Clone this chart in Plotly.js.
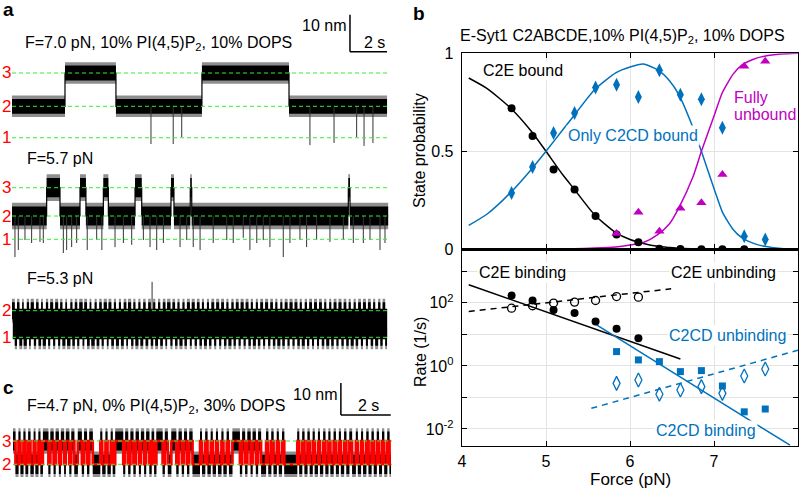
<!DOCTYPE html>
<html>
<head>
<meta charset="utf-8">
<script src="https://cdn.plot.ly/plotly-3.0.1.min.js"></script>
<style>
html, body { margin: 0; padding: 0; background: #fff; }
#fig { width: 800px; height: 488px; }
</style>
</head>
<body>
<div id="fig"></div>
<script>
// ---------- panel a, F = 7.0 pN (time in s, extension in nm, level 2 = 0) ----------
var tr1Levels = [-8.5, 0, 9.0];
var tr1Switch = [0, 2.86, 5.61, 10.25, 14.95];
var tr1State  = [2, 3, 2, 3, 2];
var tr1End = 20.24;
var tr1DipT = [7.50, 8.70, 9.16, 16.08, 17.38, 18.60, 19.00, 19.48];
var tr1DipY = [-10.2, -10.2, -8.3, -10.5, -9.9, -8.3, -10.7, -9.9];

// ---------- panel a, F = 5.7 pN ----------
var tr2Levels = [-6.3, 0, 7.65];
var tr2Switch = [0, 1.87, 2.59, 3.67, 3.99, 4.93, 5.20, 6.64, 7.00, 8.58, 8.74, 9.62, 9.70, 18.15, 18.24];
var tr2State  = [2, 3, 2, 3, 2, 3, 2, 3, 2, 3, 2, 3, 2, 3, 2];
var tr2End = 20.3;
var tr2DipT = [0.16, 0.34, 0.70, 1.06, 1.51, 1.69, 2.77, 2.95, 3.22, 3.49, 4.06, 4.57, 4.85, 5.56, 6.01,
               6.46, 7.09, 7.45, 7.81, 8.17, 9.07, 9.43, 9.78, 10.15, 10.86, 11.59, 11.94, 12.48, 12.84, 13.21,
               13.56, 13.92, 14.64, 15.00, 15.54, 15.90, 16.44, 17.16, 17.88, 18.42, 18.96, 19.32, 19.86, 20.13];
var tr2DipY = [-11.1, -9.2, -6.5, -7.3, -7.0, -7.3, -10.0, -9.2, -8.4, -7.3, -9.2, -6.5, -9.2, -8.4, -7.3,
               -7.8, -6.5, -8.4, -9.2, -7.3, -8.4, -6.5, -8.4, -9.2, -7.3, -6.5, -7.3, -5.9, -9.2, -7.3,
               -6.5, -8.4, -11.1, -7.3, -6.5, -8.4, -6.5, -7.0, -6.5, -7.3, -7.3, -6.5, -9.2, -7.3];

// ---------- panel a, F = 5.3 pN (fast 2 <-> 1 flicker) ----------
var tr3Levels = [-7.19, 0];
var tr3Switch = [0, 0.15, 0.27, 0.40, 0.55, 0.63, 0.80, 0.92, 1.01, 1.18, 1.30, 1.43, 1.57, 1.66, 1.83, 1.95, 2.06,
  2.22, 2.33, 2.49, 2.60, 2.72, 2.88, 2.97, 3.15, 3.26, 3.39, 3.52, 3.63, 3.81, 3.90, 4.05, 4.19, 4.28, 4.46,
  4.57, 4.71, 4.84, 4.95, 5.12, 5.21, 5.36, 5.50, 5.61, 5.77, 5.88, 6.03, 6.17, 6.26, 6.43, 6.55, 6.66, 6.82,
  6.93, 7.08, 7.21, 7.35, 7.49, 7.62, 7.73, 7.88, 8.00, 8.14, 8.28, 8.37, 8.55, 8.66, 8.80, 8.93, 9.04, 9.20,
  9.31, 9.44, 9.60, 9.70, 9.86, 9.98, 10.12, 10.25, 10.36, 10.52, 10.63, 10.76, 10.91, 11.02, 11.18, 11.29,
  11.44, 11.57, 11.68, 11.84, 11.96, 12.08, 12.23, 12.34, 12.50, 12.61, 12.76, 12.89, 13.00, 13.16, 13.27,
  13.40, 13.55, 13.66, 13.82, 13.94, 14.08, 14.21, 14.32, 14.48, 14.59, 14.72, 14.87, 14.98, 15.14, 15.25,
  15.40, 15.53, 15.64, 15.80, 15.92, 16.04, 16.19, 16.30, 16.46, 16.57, 16.72, 16.85, 16.96, 17.12, 17.23,
  17.36, 17.51, 17.62, 17.78, 17.90, 18.04, 18.17, 18.28, 18.44, 18.55, 18.68, 18.83, 18.94, 19.10, 19.21,
  19.36, 19.49, 19.60, 19.76, 19.88, 20.00, 20.14];
var tr3FirstState = 2;
var tr3End = 20.24;
var tr3DipT = [7.56];
var tr3DipY = [7.8];

// ---------- panel c, F = 4.7 pN (3 <-> 2, red = idealized states) ----------
var trCLevels = [null, 0, 7.28];
var trCSwitch = [0, 0.10, 0.22, 0.30, 0.42, 0.50, 0.61, 0.70, 0.83, 0.90, 1.02, 1.10, 1.20,
  1.42, 1.50, 1.63, 1.71, 1.84, 1.92, 2.05, 2.12, 2.26, 2.34, 2.46, 2.60,
  2.76, 2.85, 2.97, 3.06, 3.20, 3.50, 3.58, 3.71, 3.79, 3.92, 4.00, 4.10,
  4.42, 4.50, 4.62, 4.71, 4.83, 4.92, 5.05, 5.13, 5.26, 5.34, 5.47, 5.56, 5.66, 5.75,
  6.00, 6.09, 6.21, 6.35, 6.55, 6.64, 6.77, 6.86, 6.98, 7.07, 7.20,
  7.50, 7.58, 7.71, 7.80, 7.93, 8.01, 8.14, 8.22, 8.36, 8.44, 8.57, 8.66, 8.80,
  9.10, 9.19, 9.31, 9.40, 9.53, 9.61, 9.74, 9.83, 9.95, 10.15, 10.24, 10.36, 10.45, 10.58, 10.66, 10.79, 10.88,
  11.40, 11.48, 11.60, 11.69, 11.81, 11.90, 12.02, 12.10, 12.23, 12.31, 12.44, 12.53, 12.65, 12.73, 12.86,
  12.95, 13.07, 13.15, 13.28, 13.37, 13.49, 13.60, 13.75, 13.83, 13.96, 14.04, 14.17, 14.26, 14.38, 14.47,
  14.59, 14.68, 14.80, 14.89, 15.01, 15.10];
var trCFirstState = 3;
var trCEnd = 15.16;

var levelNames = ['1', '2', '3'];

// ---------- panel b, state probabilities ----------
var forceF = [4.59, 4.84, 5.09, 5.34, 5.59, 5.84, 6.10, 6.35, 6.60, 6.85, 7.10, 7.36, 7.61];
var pC2E   = [0.72, 0.578, 0.407, 0.305, 0.17, 0.075, 0.036, 0.003, 0.002, 0, 0, 0, null];
var pC2CD  = [0.287, 0.42, 0.593, 0.695, 0.825, 0.84, 0.777, 0.913, 0.789, 0.765, 0.62, 0.066, 0.05];
var pFree  = [null, null, null, null, null, 0.08, 0.189, 0.092, 0.21, 0.238, 0.381, 0.934, 0.959];

var fitF     = [4.08, 4.3, 4.58, 4.83, 5.0, 5.2, 5.33, 5.58, 5.83, 6.0, 6.16, 6.33, 6.47, 6.58, 6.75, 6.85, 7.0, 7.1, 7.23, 7.33, 7.47, 7.6, 7.8, 8.0];
var fitC2E   = [0.874, 0.82, 0.72, 0.60, 0.50, 0.38, 0.31, 0.175, 0.085, 0.05, 0.03, 0.015, 0.009, 0.005, 0.003, 0.002, 0.001, 0, 0, 0, 0, 0, 0, 0];
var fitC2CD  = [0.122, 0.18, 0.29, 0.41, 0.50, 0.61, 0.68, 0.815, 0.90, 0.93, 0.945, 0.915, 0.86, 0.79, 0.62, 0.50, 0.31, 0.19, 0.10, 0.06, 0.03, 0.015, 0.004, 0];
var fitFree  = [0, 0, 0, 0, 0.001, 0.002, 0.003, 0.006, 0.012, 0.022, 0.035, 0.075, 0.13, 0.21, 0.37, 0.50, 0.68, 0.80, 0.895, 0.94, 0.97, 0.985, 0.996, 1.0];

// ---------- panel b, rates (1/s) ----------
var kC2Ebind   = [172, 119, 60, 47.4, 25.7, 15.0, 7.6];        // forceF[0..6]
var kC2Eunbind = [68, 81, 99, 106, 119, 159, 152];              // forceF[0..6]
var kC2CDbind   = [2.85, 1.55, 1.37, 0.66, 0.71, 0.231, 0.035, 0.043];  // forceF[5..12]
var kC2CDunbind = [0.28, 0.36, 0.126, 0.173, 0.22, 0.135, 0.48, 0.80]; // forceF[5..12]

var fitC2EbindF = [4.08, 6.6],   fitC2EbindK = [377, 1.66];
var fitC2EunbF  = [4.08, 6.49],  fitC2EunbK  = [53.3, 280.5];
var fitC2CDbindF = [5.583, 7.905], fitC2CDbindK = [21.6, 0.00305];
var fitC2CDunbF  = [5.54, 8.0],    fitC2CDunbK  = [0.0452, 3.16];

var rateTicks = [0.01, 0.1, 1, 10, 100, 1000];
var rateTickText = ['10<sup>-2</sup>', '', '10<sup>0</sup>', '', '10<sup>2</sup>', ''];

// ---------- helpers ----------
var W = 800, H = 488;
function X(px) { return px / W; }
function Y(py) { return 1 - py / H; }
function dom(top, bot) { return [Y(bot), Y(top)]; }
function yRange(top, bot, zero, s) { return [-(bot - zero) / s, (zero - top) / s]; }

var FONT = 'Arial, "Liberation Sans", Helvetica, sans-serif';
var BLUE = '#0072BD', MAG = '#c000c0', GREEN = '#33ee33', RED = '#ff0000';

function alternate(first, other, n) {
  var s = [];
  for (var i = 0; i < n; i++) s.push(i % 2 === 0 ? first : other);
  return s;
}

function step(sw, st, end, lv) {
  var x = sw.slice(); x.push(end);
  var y = st.map(function (s) { return lv[s - 1]; });
  y.push(y[y.length - 1]);
  return { x: x, y: y };
}

var data = [];

function band(ax, sx, h, color) {
  data.push({ x: sx.x, y: sx.y.map(function (v) { return v - h; }), xaxis: ax[0], yaxis: ax[1],
    mode: 'lines', line: { width: 0, shape: 'hv', simplify: false }, hoverinfo: 'skip', showlegend: false });
  data.push({ x: sx.x, y: sx.y.map(function (v) { return v + h; }), xaxis: ax[0], yaxis: ax[1],
    mode: 'lines', line: { width: 0, shape: 'hv', simplify: false }, fill: 'tonexty', fillcolor: color,
    hoverinfo: 'skip', showlegend: false });
}

function stepLine(ax, sx, color, w) {
  data.push({ x: sx.x, y: sx.y, xaxis: ax[0], yaxis: ax[1], mode: 'lines',
    line: { color: color, width: w, shape: 'hv', simplify: false }, hoverinfo: 'skip', showlegend: false });
}

function dips(ax, base, t, d) {
  var x = [], y = [];
  for (var i = 0; i < t.length; i++) { x.push(t[i], t[i], null); y.push(base, d[i], null); }
  data.push({ x: x, y: y, xaxis: ax[0], yaxis: ax[1], mode: 'lines',
    line: { color: '#333', width: 1 }, hoverinfo: 'skip', showlegend: false });
}

function levelLines(ax, lv, xmax) {
  lv.forEach(function (v) {
    if (v === null) return;
    data.push({ x: [0, xmax], y: [v, v], xaxis: ax[0], yaxis: ax[1], mode: 'lines',
      line: { color: GREEN, width: 1, dash: '4px,3px' }, hoverinfo: 'skip', showlegend: false });
  });
}

function trace(ax, sx, core, fringe, cw) {
  band(ax, sx, fringe, 'rgba(30,30,30,0.5)');
  band(ax, sx, core, '#000');
  stepLine(ax, sx, '#000', cw);
}

// ---------- build panel a / c ----------
var s1 = step(tr1Switch, tr1State, tr1End, tr1Levels);
trace(['x', 'y'], s1, 2.0, 2.9, 1.2);
dips(['x', 'y'], 0, tr1DipT, tr1DipY);
levelLines(['x', 'y'], tr1Levels, 20.4);

var s2 = step(tr2Switch, tr2State, tr2End, tr2Levels);
trace(['x2', 'y2'], s2, 2.6, 3.6, 1.2);
dips(['x2', 'y2'], 0, tr2DipT, tr2DipY);
levelLines(['x2', 'y2'], tr2Levels, 20.4);

var s3 = step(tr3Switch, alternate(tr3FirstState, 1, tr3Switch.length), tr3End, tr3Levels);
trace(['x3', 'y3'], s3, 2.3, 3.2, 4);
dips(['x3', 'y3'], 0, tr3DipT, tr3DipY);
levelLines(['x3', 'y3'], tr3Levels, 20.3);

var sC = step(trCSwitch, alternate(trCFirstState, 2, trCSwitch.length), trCEnd, trCLevels);
trace(['x4', 'y4'], sC, 3.0, 4.0, 1.5);
stepLine(['x4', 'y4'], sC, RED, 2.6);
levelLines(['x4', 'y4'], trCLevels, 15.2);

// ---------- build panel b ----------
function line(xa, ya, x, y, color, dash) {
  data.push({ x: x, y: y, xaxis: xa, yaxis: ya, mode: 'lines',
    line: { color: color, width: 1.5, dash: dash || 'solid', shape: 'spline', smoothing: 0.6 },
    hoverinfo: 'skip', showlegend: false });
}
function pts(xa, ya, x, y, sym, size, color, open) {
  data.push({ x: x, y: y, xaxis: xa, yaxis: ya, mode: 'markers',
    marker: { symbol: sym, size: size, color: color, line: { color: color, width: open ? 1.3 : 0 } },
    hoverinfo: 'skip', showlegend: false });
}

line('x5', 'y5', fitF, fitC2E, '#000');
line('x5', 'y5', fitF, fitC2CD, BLUE);
line('x5', 'y5', fitF, fitFree, MAG);
pts('x5', 'y5', forceF, pC2E, 'circle', 8, '#000');
pts('x5', 'y5', forceF, pC2CD, 'diamond-tall', 10, BLUE);
pts('x5', 'y5', forceF, pFree, 'triangle-up', 9, MAG);

var fA = forceF.slice(0, 7), fB = forceF.slice(5);
line('x6', 'y6', fitC2EbindF, fitC2EbindK, '#000');
line('x6', 'y6', fitC2EunbF, fitC2EunbK, '#000', '6px,5px');
line('x6', 'y6', fitC2CDbindF, fitC2CDbindK, BLUE);
line('x6', 'y6', fitC2CDunbF, fitC2CDunbK, BLUE, '6px,5px');
pts('x6', 'y6', fA, kC2Ebind, 'circle', 8, '#000');
pts('x6', 'y6', fA, kC2Eunbind, 'circle-open', 8, '#000', true);
pts('x6', 'y6', fB, kC2CDbind, 'square', 7, BLUE);
pts('x6', 'y6', fB, kC2CDunbind, 'diamond-tall-open', 10, BLUE, true);

// ---------- axes ----------
function hidden(d, r) { return { domain: d, range: r, visible: false, fixedrange: true }; }
var xT = [X(12), X(390)], xC = [X(13), X(392)];

var boxAx = {
  showline: true, linecolor: '#000', linewidth: 1.3, mirror: 'ticks', ticks: 'inside',
  ticklen: 5, tickcolor: '#000', showgrid: true, gridcolor: '#e3e3e3', gridwidth: 1,
  zeroline: false, tickfont: { family: FONT, size: 16, color: '#000' }, ticklabelstandoff: 4
};
function merge(a, b) { var o = {}; for (var k in a) o[k] = a[k]; for (var k2 in b) o[k2] = b[k2]; return o; }
var xB = [X(462), X(798)];

var layout = {
  width: W, height: H, margin: { l: 0, r: 0, t: 0, b: 0 },
  paper_bgcolor: '#fff', plot_bgcolor: 'rgba(0,0,0,0)', showlegend: false,
  font: { family: FONT, size: 16, color: '#000' },
  xaxis:  hidden(xT, [0, 20.4]),
  yaxis:  hidden(dom(10, 150), yRange(10, 150, 106.3, 3.7)),
  xaxis2: hidden(xT, [0, 20.4]),
  yaxis2: hidden(dom(155, 262), yRange(155, 262, 216, 3.7)),
  xaxis3: hidden(xT, [0, 20.4]),
  yaxis3: hidden(dom(272, 362), yRange(272, 362, 310.7, 3.7)),
  xaxis4: hidden(xC, [0, 15.2]),
  yaxis4: hidden(dom(378, 487), yRange(378, 487, 464.3, 3.2)),
  xaxis5: merge(boxAx, { domain: xB, range: [4, 8], anchor: 'y5', tickvals: [4, 5, 6, 7, 8], showticklabels: false }),
  yaxis5: merge(boxAx, { domain: dom(53.3, 249.3), range: [0, 1], anchor: 'x5', tickvals: [0, 0.5, 1], ticktext: ['0', '0.5', '1'] }),
  xaxis6: merge(boxAx, { domain: xB, range: [4, 8], anchor: 'y6', tickvals: [4, 5, 6, 7, 8], ticklabelstandoff: 0 }),
  yaxis6: merge(boxAx, { domain: dom(249.3, 446), type: 'log', range: [-2.54, 3.70], anchor: 'x6',
    tickvals: rateTicks, ticktext: rateTickText }),
  shapes: [],
  annotations: []
};

// scale bars: 10 nm and 2 s, drawn in the trace axes
function scaleBar(xa, ya, t0, y0) {
  layout.shapes.push({ type: 'line', xref: xa, yref: ya, x0: t0, x1: t0, y0: y0, y1: y0 + 10, line: { color: '#000', width: 1.5 } });
  layout.shapes.push({ type: 'line', xref: xa, yref: ya, x0: t0, x1: t0 + 2, y0: y0, y1: y0, line: { color: '#000', width: 1.5 } });
}
scaleBar('x', 'y', 18.24, 14.76);
scaleBar('x4', 'y4', 13.15, 15.4);

function ann(text, x, y, o) {
  o = o || {};
  layout.annotations.push({
    text: text, xref: o.xref || 'paper', yref: o.yref || 'paper',
    x: o.xref ? x : X(x), y: o.yref ? y : Y(y),
    xanchor: o.xa || 'left', yanchor: 'middle', showarrow: false, textangle: o.angle || 0,
    bgcolor: o.bg || 'rgba(0,0,0,0)', borderpad: 1,
    font: { family: FONT, size: o.size || 16, color: o.color || '#000' }
  });
}

ann('<b>a</b>', 1, 10, { size: 19 });
ann('F=7.0 pN, 10% PI(4,5)P<sub>2</sub>, 10% DOPS', 23, 43);
ann('10 nm', 348, 25, { xa: 'right' });
ann('2 s', 374, 42, { xa: 'center' });
ann('F=5.7 pN', 25, 158);
ann('F=5.3 pN', 25, 278);
ann('<b>c</b>', 1, 387, { size: 19 });
ann('F=4.7 pN, 0% PI(4,5)P<sub>2</sub>, 30% DOPS', 25, 406);
ann('10 nm', 339, 394, { xa: 'right' });
ann('2 s', 368, 405, { xa: 'center' });

function levelLabels(ya, lv) {
  lv.forEach(function (v, i) {
    if (v === null) return;
    layout.annotations.push({ text: levelNames[i], xref: 'paper', yref: ya, x: 0, y: v,
      xanchor: 'left', yanchor: 'middle', showarrow: false,
      font: { family: FONT, size: 17, color: RED } });
  });
}
levelLabels('y', tr1Levels);
levelLabels('y2', tr2Levels);
levelLabels('y3', tr3Levels);
levelLabels('y4', trCLevels);

ann('<b>b</b>', 411, 13, { size: 19 });
ann('E-Syt1 C2ABCDE,10% PI(4,5)P<sub>2</sub>, 10% DOPS', 622, 37, { xa: 'center' });
ann('C2E bound', 481, 71, { bg: '#fff' });
ann('Only C2CD bound', 566, 135, { color: BLUE, bg: '#fff' });
ann('Fully', 732, 98, { color: MAG });
ann('unbound', 732, 115, { color: MAG });
ann('State probability', 420, 151, { xa: 'center', angle: -90 });
ann('C2E binding', 477, 272, { bg: '#fff' });
ann('C2E unbinding', 669, 272, { bg: '#fff' });
ann('C2CD unbinding', 667, 335, { color: BLUE, bg: '#fff' });
ann('C2CD binding', 654, 430, { color: BLUE, bg: '#fff' });
ann('Rate (1/s)', 420, 352, { xa: 'center', angle: -90 });
ann('Force (pN)', 630, 479, { xa: 'center', size: 17 });

Plotly.newPlot('fig', data, layout, { staticPlot: true, displayModeBar: false });
</script>
</body>
</html>
